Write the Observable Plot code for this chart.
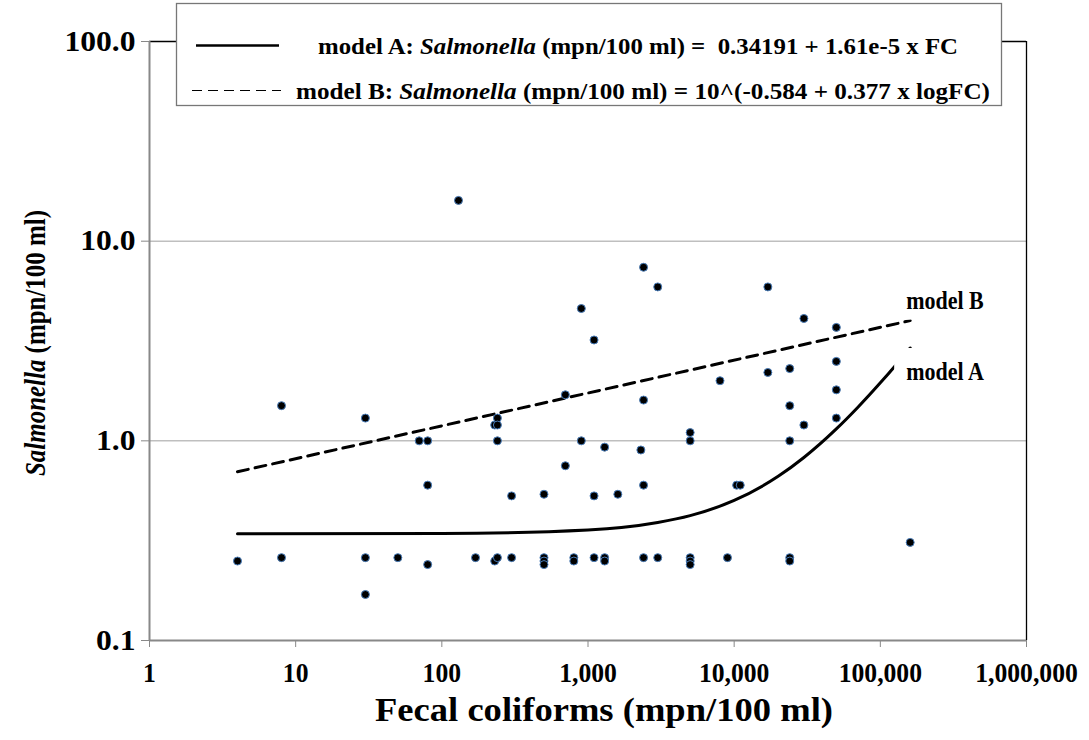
<!DOCTYPE html>
<html>
<head>
<meta charset="utf-8">
<script src="https://cdn.jsdelivr.net/npm/d3@7"></script>
<script src="https://cdn.jsdelivr.net/npm/@observablehq/plot@0.6"></script>
<style>
  html, body { margin: 0; padding: 0; background: white; }
  #chart svg { display: block; }
</style>
</head>
<body>
<div id="chart"></div>
<script>
// Observed samples: fecal coliforms (x) and Salmonella (y), mpn/100 ml
const fcValues = [4, 8, 8, 30, 30, 30, 50, 70, 80, 80, 80, 130, 170,
  230, 240, 240, 240, 230, 240, 300, 300, 500, 500, 500, 500, 700, 700,
  800, 800, 900, 900, 1100, 1100, 1100, 1300, 1300, 1300, 1600, 2300,
  2400, 2400, 2400, 2400, 3000, 3000, 5000, 5000, 5000, 5000, 5000,
  8000, 9000, 10400, 11000, 17000, 17000, 24000, 24000, 24000, 24000, 24000,
  30000, 30000, 50000, 50000, 50000, 50000, 160000];
const salValues = [0.25, 1.5, 0.26, 1.3, 0.26, 0.17, 0.26, 1.0, 1.0, 0.6, 0.24, 16, 0.26,
  1.2, 1.3, 1.2, 1.0, 0.25, 0.26, 0.53, 0.26, 0.54, 0.26, 0.25, 0.24, 1.7, 0.75,
  0.26, 0.25, 4.6, 1.0, 3.2, 0.53, 0.26, 0.93, 0.26, 0.25, 0.54, 0.9,
  7.4, 1.6, 0.6, 0.26, 5.9, 0.26, 1.1, 1.0, 0.26, 0.25, 0.24,
  2.0, 0.26, 0.6, 0.6, 5.9, 2.2, 2.3, 1.5, 1.0, 0.26, 0.25,
  4.1, 1.2, 3.7, 2.5, 1.8, 1.3, 0.31];

// Model curves
const modelAX = [4, 100, 1000, 3000, 5000, 10000, 20000, 30000, 50000, 70000, 100000, 130000, 160000];
const modelAY = [0.342, 0.3435, 0.358, 0.390, 0.422, 0.503, 0.664, 0.825, 1.147, 1.469, 1.952, 2.435, 2.918];
const modelBX = [4, 160000];
const modelBY = [0.70, 4.0];

const xTicks = [1, 10, 100, 1000, 10000, 100000, 1000000];
const yTicks = [0.1, 1, 10, 100];
const gridValues = [1, 10];

const modelLabels = ["model B", "model A"];
const modelLabelX = [160000, 160000];
const modelLabelY = [4.0, 2.918];

const legendTexts = [
  ["model A: ", "Salmonella", " (mpn/100 ml) =  0.34191 + 1.61e-5 x FC"],
  ["model B: ", "Salmonella", " (mpn/100 ml) = 10^(-0.584 + 0.377 x logFC)"]
];
const xTitle = "Fecal coliforms (mpn/100 ml)";
const yTitle = ["Salmonella", " (mpn/100 ml)"];

const points = fcValues.map((x, i) => ({x, y: salValues[i]}));
const lineA = modelAX.map((x, i) => ({x, y: modelAY[i]}));
const lineB = modelBX.map((x, i) => ({x, y: modelBY[i]}));
const labels = modelLabels.map((t, i) => ({t, x: modelLabelX[i], y: modelLabelY[i]}));

const FONT = "'Liberation Serif', 'Times New Roman', serif";

const chart = Plot.plot({
  width: 1089,
  height: 740,
  marginLeft: 149,
  marginRight: 63,
  marginTop: 41,
  marginBottom: 100,
  style: {fontFamily: FONT, fontWeight: "bold", background: "white", color: "black"},
  x: {type: "log", domain: [1, 1e6]},
  y: {type: "log", domain: [0.1, 100]},
  marks: [
    Plot.ruleY(gridValues, {stroke: "#bfbfbf", strokeWidth: 1.5}),
    Plot.ruleY([100], {stroke: "black", strokeWidth: 1.3}),
    Plot.ruleX([1e6], {stroke: "black", strokeWidth: 1.3}),
    Plot.axisX({ticks: xTicks, tickFormat: d3.format(","), tickSize: 7, tickPadding: 15,
      stroke: "#888", fontSize: 27, fontWeight: "bold", label: null}),
    Plot.axisY({ticks: yTicks, tickFormat: d => d.toFixed(1), tickSize: 8, tickPadding: 6,
      stroke: "#888", fontSize: 29, fontWeight: "bold", label: null}),
    Plot.ruleY([0.1], {stroke: "#888", strokeWidth: 2}),
    Plot.ruleX([1], {stroke: "#888", strokeWidth: 2}),
    Plot.line(lineA, {x: "x", y: "y", stroke: "black", strokeWidth: 3, curve: "monotone-x"}),
    Plot.line(lineB, {x: "x", y: "y", stroke: "black", strokeWidth: 3, strokeDasharray: "11,7"}),
    Plot.dot(points, {x: "x", y: "y", r: 4, fill: "black", stroke: "#4a7ebb", strokeWidth: 1}),
    Plot.text(labels, {x: "x", y: "y", text: "t", textAnchor: "start", dx: -4,
      fontSize: 25, fontWeight: "bold", fill: "black"})
  ]
});

document.getElementById("chart").appendChild(chart);
const svg = d3.select(chart);

// The reference uses a narrow Times-like face: squeeze/stretch glyphs horizontally
function stretch(sel, factor) {
  sel.each(function() {
    const w = this.getComputedTextLength();
    d3.select(this).attr("textLength", w * factor).attr("lengthAdjust", "spacingAndGlyphs");
  });
}
stretch(svg.selectAll('g[aria-label="y-axis tick label"] text'), 1.09);
stretch(svg.selectAll('g[aria-label="x-axis tick label"] text'), 0.95);

// Place model labels above / below the line ends, with white boxes behind
const labelShift = {"model B": -20, "model A": 24};
svg.selectAll("text").filter(function() { return this.textContent in labelShift; })
  .each(function() {
    const node = this;
    const shift = labelShift[node.textContent];
    const tr = d3.select(node).attr("transform") || "";
    d3.select(node).attr("transform", tr + ` translate(0,${shift})`);
    const bb = node.getBBox();
    d3.select(node.parentNode).insert("rect", () => node)
      .attr("x", bb.x - 12).attr("y", bb.y - 10)
      .attr("width", bb.width + 20).attr("height", bb.height + 16)
      .attr("transform", tr + ` translate(0,${shift})`)
      .attr("fill", "white");
  });
stretch(svg.selectAll("text").filter(function() { return this.textContent in labelShift; }), 0.88);

// Legend box
const lg = svg.append("g").attr("font-family", FONT).attr("font-weight", "bold")
  .attr("text-anchor", "start");
lg.append("rect").attr("x", 176.5).attr("y", 3.5).attr("width", 825).attr("height", 102)
  .attr("fill", "white").attr("stroke", "#777").attr("stroke-width", 1.3);
lg.append("line").attr("x1", 196).attr("x2", 279).attr("y1", 45.5).attr("y2", 45.5)
  .attr("stroke", "black").attr("stroke-width", 2.4);
lg.append("line").attr("x1", 192).attr("x2", 281).attr("y1", 90.5).attr("y2", 90.5)
  .attr("stroke", "black").attr("stroke-width", 1).attr("stroke-dasharray", "10,6");
const lgX = [318, 296];
const lgY = [54, 99];
const lgLen = [640, 694];
legendTexts.forEach((parts, i) => {
  const t = lg.append("text").attr("x", lgX[i]).attr("y", lgY[i]).attr("font-size", 24)
    .attr("textLength", lgLen[i]).attr("lengthAdjust", "spacingAndGlyphs");
  t.append("tspan").text(parts[0]);
  t.append("tspan").attr("font-style", "italic").text(parts[1]);
  t.append("tspan").text(parts[2]);
});

// Axis titles
svg.append("text").attr("x", 604).attr("y", 721).attr("text-anchor", "middle")
  .attr("font-family", FONT).attr("font-weight", "bold").attr("font-size", 34)
  .attr("textLength", 458).attr("lengthAdjust", "spacingAndGlyphs").text(xTitle);
const yt = svg.append("text").attr("transform", "translate(45,343) rotate(-90)")
  .attr("text-anchor", "middle").attr("font-family", FONT).attr("font-weight", "bold").attr("font-size", 30)
  .attr("textLength", 266).attr("lengthAdjust", "spacingAndGlyphs");
yt.append("tspan").attr("font-style", "italic").text(yTitle[0]);
yt.append("tspan").text(yTitle[1]);
</script>
</body>
</html>
